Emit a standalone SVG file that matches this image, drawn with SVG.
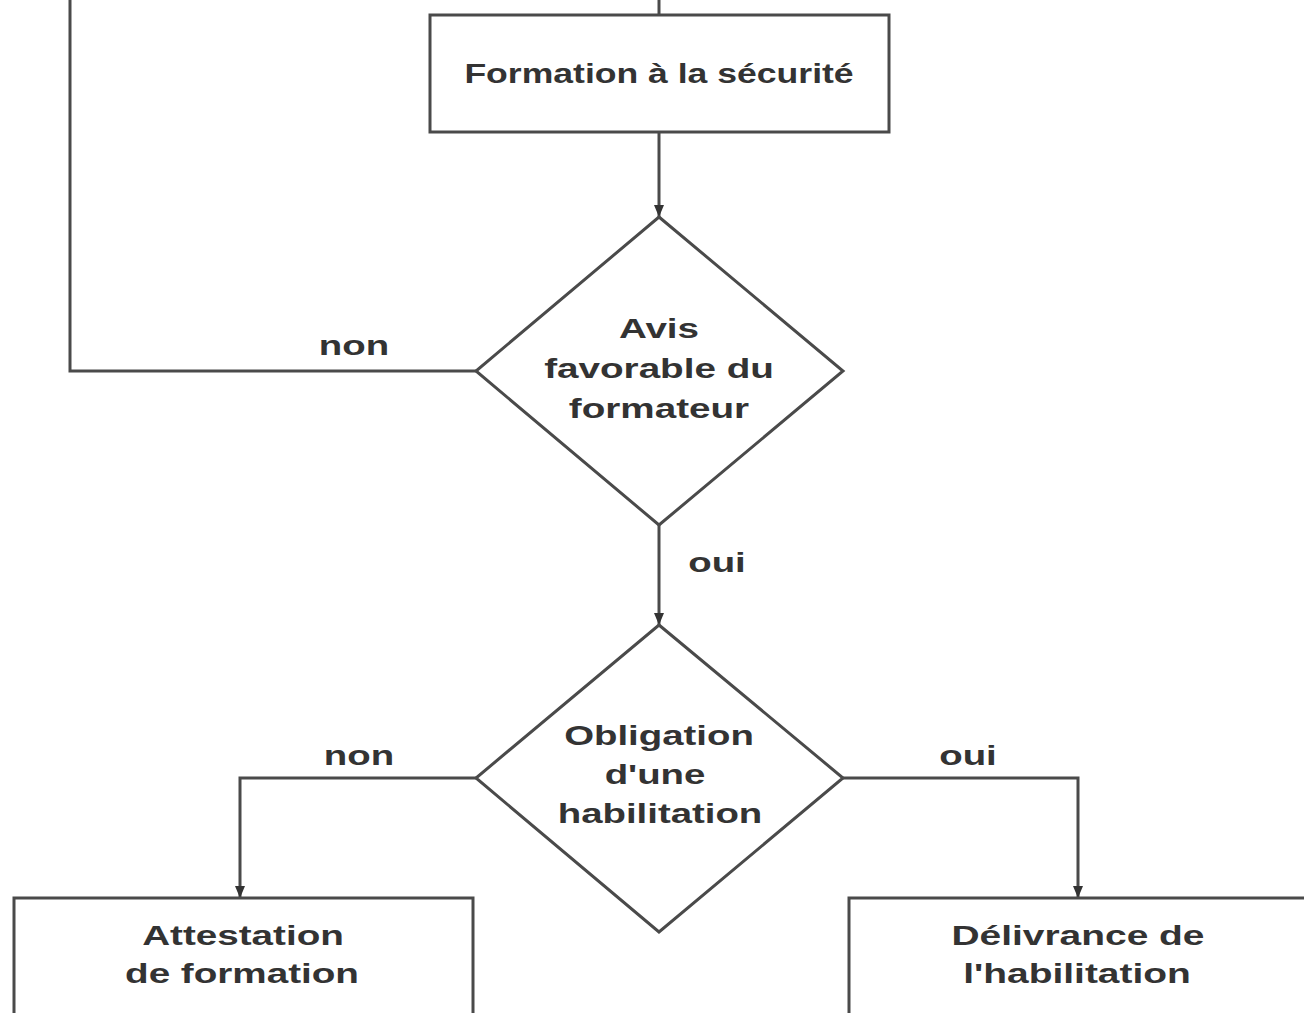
<svg xmlns="http://www.w3.org/2000/svg" width="1304" height="1013" viewBox="0 0 1304 1013">
<style>
.shape{fill:#fff;stroke:#4a4a4a;stroke-width:3}
.edge{fill:none;stroke:#4a4a4a;stroke-width:3}
.t{font-family:"Liberation Sans",Arial,sans-serif;font-weight:bold;font-size:28px;fill:#333;text-anchor:middle}
</style>
<defs>
<marker id="arr" markerWidth="12" markerHeight="10" refX="12" refY="5" orient="auto" markerUnits="userSpaceOnUse">
<path d="M0,0 L12,5 L0,10 Z" fill="#333"/>
</marker>
</defs>
<rect width="1304" height="1013" fill="#fff"/>
<g id="connectors">
<line class="edge" x1="659" y1="0" x2="659" y2="15"/>
<polyline class="edge" points="476,371 70,371 70,0"/>
<line class="edge" x1="659" y1="132" x2="659" y2="217" marker-end="url(#arr)"/>
<line class="edge" x1="659" y1="525" x2="659" y2="625" marker-end="url(#arr)"/>
<polyline class="edge" points="476,778 240,778 240,898" marker-end="url(#arr)"/>
<polyline class="edge" points="843,778 1078,778 1078,898" marker-end="url(#arr)"/>
<text class="t" transform="translate(354 355) scale(1.37 1)">non</text>
<text class="t" transform="translate(717 572) scale(1.37 1)">oui</text>
<text class="t" transform="translate(359 765) scale(1.37 1)">non</text>
<text class="t" transform="translate(968 765) scale(1.37 1)">oui</text>
</g>
<g id="formation">
<rect class="shape" x="430" y="15" width="459" height="117"/>
<text class="t" transform="translate(659 83) scale(1.27 1)">Formation à la sécurité</text>
</g>
<g id="avis">
<polygon class="shape" points="659,217 843,371 659,525 476,371"/>
<text class="t" transform="translate(659 338) scale(1.38 1)">Avis</text>
<text class="t" transform="translate(659 378) scale(1.38 1)">favorable du</text>
<text class="t" transform="translate(659 418) scale(1.38 1)">formateur</text>
</g>
<g id="obligation">
<polygon class="shape" points="659,625 843,778 659,932 476,778"/>
<text class="t" transform="translate(659 745) scale(1.37 1)">Obligation</text>
<text class="t" transform="translate(655 784) scale(1.37 1)">d'une</text>
<text class="t" transform="translate(660 823) scale(1.37 1)">habilitation</text>
</g>
<g id="attestation">
<rect class="shape" x="14" y="898" width="459" height="130"/>
<text class="t" transform="translate(243 945) scale(1.38 1)">Attestation</text>
<text class="t" transform="translate(242 983) scale(1.38 1)">de formation</text>
</g>
<g id="delivrance">
<rect class="shape" x="849" y="898" width="470" height="130"/>
<text class="t" transform="translate(1078 945) scale(1.39 1)">Délivrance de</text>
<text class="t" transform="translate(1077 983) scale(1.39 1)">l'habilitation</text>
</g>
</svg>
